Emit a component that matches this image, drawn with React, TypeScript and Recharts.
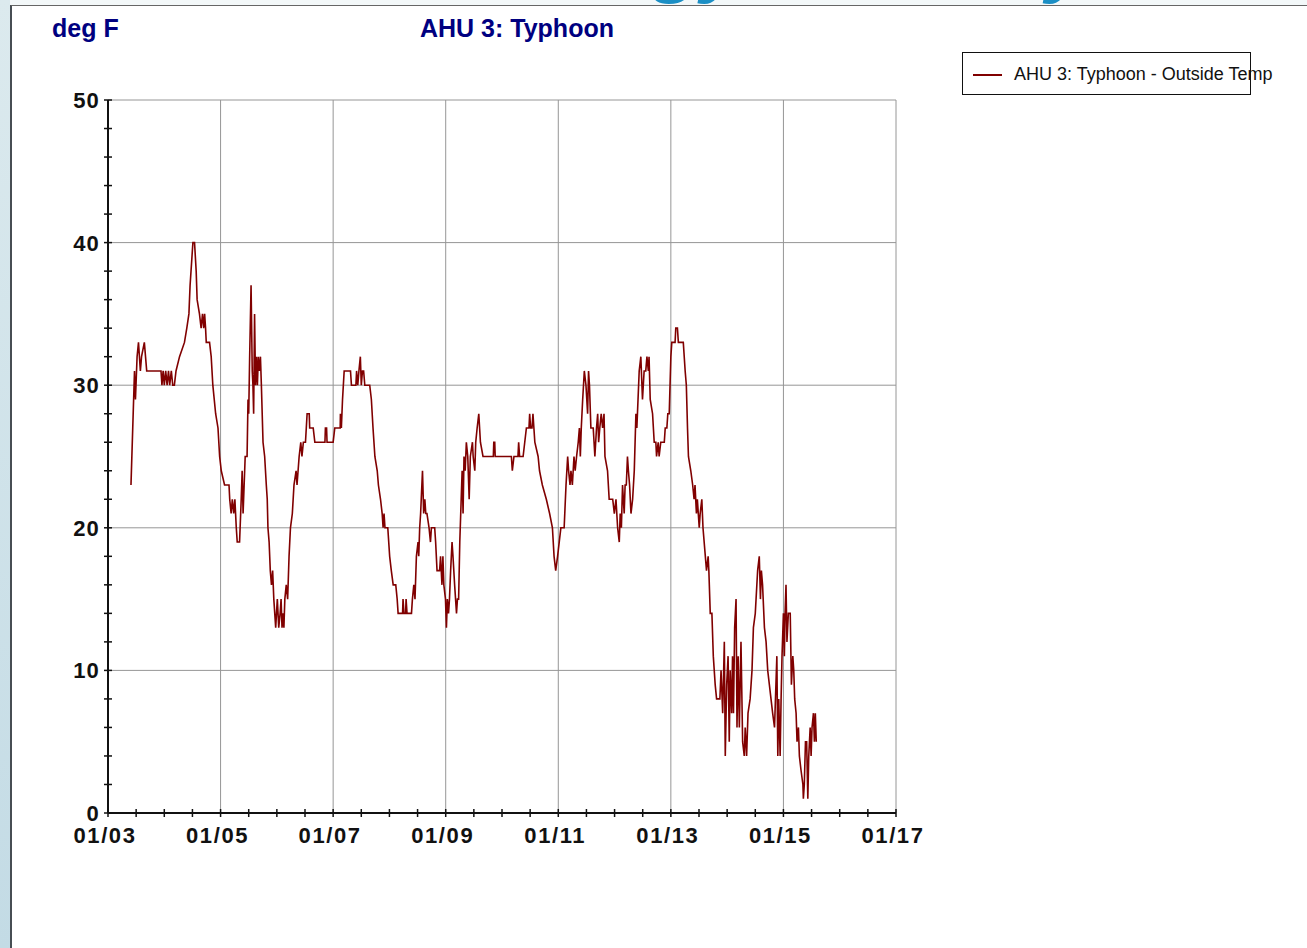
import { LineChart, Line, XAxis, YAxis, ReferenceLine } from 'recharts';

// Outside air temperature readings for AHU 3, as [hours since 01/03 00:00, deg F]
const outsideTemp: [number, number][] = [
  [9.8, 23], [11.3, 31], [11.7, 29], [12.4, 32], [13, 33], [13.4, 32], [13.8, 31], [14.3, 32], [15.5, 33], [16.5, 31],
  [22.6, 31], [23, 30], [23.5, 31], [24, 30], [24.6, 31], [25.2, 30], [25.8, 31], [26.3, 30], [27, 31], [27.6, 30],
  [28.3, 30], [29, 31], [30.5, 32], [32.6, 33], [33.6, 34], [34.5, 35], [35, 37], [36.2, 40], [36.9, 40], [37.6, 38],
  [38, 36], [39, 35], [39.7, 34], [40.3, 35], [40.8, 34], [41.2, 35], [41.6, 34], [41.9, 33], [43.3, 33], [44, 32],
  [44.7, 30], [45.9, 28], [46.9, 27], [47.6, 25], [48.3, 24], [49.7, 23], [51.6, 23], [51.9, 22], [52.5, 21], [53, 22],
  [53.6, 21], [54.1, 22], [54.7, 20], [55.1, 19], [56.1, 19], [56.8, 22], [57.2, 24], [57.6, 21], [58.5, 25], [59.3, 25],
  [59.7, 29], [60, 28], [60.4, 32], [61, 37], [61.5, 31], [61.8, 30], [62.1, 28], [62.5, 35], [62.9, 30], [63.3, 32],
  [63.7, 30], [64.1, 32], [64.5, 31], [65, 32], [65.4, 30], [66.1, 26], [66.8, 25], [67.5, 23], [67.9, 22], [68.2, 20],
  [68.7, 19], [69.2, 17], [69.7, 16], [70.2, 17], [70.7, 15], [71.1, 14], [71.5, 13], [72.2, 15], [72.8, 13], [73.4, 14],
  [73.8, 15], [74.2, 13], [74.7, 14], [75, 13], [75.4, 15], [76, 16], [76.6, 15], [77.2, 18], [77.8, 20], [78.6, 21],
  [79.3, 23], [80.2, 24], [80.6, 23], [81.5, 25], [82.2, 26], [82.7, 25], [83.3, 26], [84.2, 26], [84.9, 28], [85.8, 28],
  [86, 27], [87.5, 27], [88.2, 26], [92.5, 26], [92.7, 27], [93.2, 27], [93.4, 26], [96, 26], [96.7, 27], [99, 27],
  [99.1, 28], [99.5, 27], [100, 29], [100.7, 31], [103.4, 31], [103.8, 30], [105.7, 30], [106, 31], [106.5, 30], [107, 31],
  [107.6, 32], [108, 30], [108.5, 31], [109, 31], [109.5, 30], [111.6, 30], [112.3, 29], [113, 27], [113.8, 25], [114.8, 24],
  [115.3, 23], [116.2, 22], [116.9, 21], [117.3, 20], [117.7, 21], [118.1, 20], [119.3, 20], [120.1, 18], [120.8, 17], [121.6, 16],
  [122.7, 16], [123.3, 15], [123.7, 14], [125.6, 14], [125.8, 15], [126.2, 14], [126.9, 14], [127.1, 15], [127.5, 14], [129.4, 14],
  [129.8, 15], [130.4, 16], [130.9, 15], [131.5, 18], [132.2, 19], [132.5, 18], [132.9, 20], [133.3, 21], [134.1, 24], [134.6, 21],
  [135.1, 22], [135.5, 21], [136, 21], [136.9, 20], [137.5, 19], [137.9, 20], [139.3, 20], [139.7, 19], [140.3, 17], [141.4, 17],
  [141.8, 18], [142.4, 16], [142.8, 18], [143.2, 16], [143.9, 15], [144.3, 13], [144.7, 15], [145.2, 14], [145.6, 15], [146.1, 17],
  [146.7, 19], [147.1, 18], [147.8, 16], [148.2, 15], [148.6, 14], [149, 15], [149.5, 15], [150, 19], [150.4, 21], [151, 24],
  [151.4, 21], [151.8, 25], [152.3, 24], [152.8, 26], [153.4, 25], [154, 22], [154.5, 25], [155.4, 26], [155.7, 25], [156.4, 24],
  [156.8, 26], [157.4, 27], [158.1, 28], [158.8, 26], [159.9, 25], [164.3, 25], [164.5, 26], [164.9, 26], [165.1, 25], [172, 25],
  [172.4, 24], [173.1, 25], [174.8, 25], [175.1, 26], [175.5, 25], [177, 25], [177.7, 26], [178.4, 27], [179.5, 27], [179.8, 28],
  [180.2, 27], [180.8, 27], [181.2, 28], [182, 26], [183.4, 25], [184, 24], [185.2, 23], [186.9, 22], [188.3, 21], [189.5, 20],
  [190.2, 18], [190.9, 17], [191.7, 18], [192.4, 19], [193.1, 20], [194.5, 20], [195.3, 23], [196, 25], [196.4, 24], [197, 23],
  [197.4, 24], [198, 23], [198.7, 25], [199.2, 24], [199.8, 25], [200.5, 26], [201, 27], [201.4, 25], [201.8, 27], [202.4, 29],
  [203.1, 31], [203.8, 30], [204.5, 28], [204.9, 31], [205.3, 30], [205.9, 27], [206.9, 27], [207.6, 25], [208.3, 27], [208.8, 28],
  [209.2, 26], [209.7, 27], [210.3, 28], [210.9, 27], [211.5, 28], [211.9, 25], [213, 24], [213.7, 22], [215.2, 22], [215.9, 21],
  [216.6, 22], [217.3, 20], [218, 19], [218.4, 21], [218.9, 20], [219.4, 23], [220.1, 21], [220.5, 23], [221, 23], [221.5, 25],
  [221.9, 24], [222.4, 23], [223, 21], [223.7, 22], [224.4, 24], [225.1, 28], [225.5, 27], [226, 29], [226.5, 31], [227.2, 32],
  [227.9, 29], [228.6, 31], [229.3, 31], [229.8, 32], [230.4, 31], [230.7, 32], [231.2, 29], [232.2, 28], [232.9, 26], [233.6, 26],
  [233.9, 25], [234.6, 26], [235, 25], [235.7, 26], [237.2, 26], [237.6, 27], [238.3, 27], [238.7, 28], [239.3, 28], [240, 32],
  [240.4, 33], [241.8, 33], [242.1, 34], [242.8, 34], [243.2, 33], [245.3, 33], [246.1, 31], [246.6, 30], [247.1, 27], [247.5, 25],
  [248.5, 24], [249.3, 23], [249.9, 22], [250.3, 23], [250.9, 21], [251.3, 22], [252.1, 20], [252.5, 21], [253.2, 22], [253.7, 20],
  [254.7, 18], [255.2, 17], [255.9, 18], [256.2, 17], [256.8, 14], [257.5, 14], [258.1, 11], [258.9, 9], [259.5, 8], [260.9, 8],
  [261.4, 10], [262.1, 7], [262.8, 12], [263.2, 4], [263.8, 9], [264.4, 11], [264.9, 5], [265.3, 10], [265.9, 7], [266.3, 11],
  [266.7, 7], [267.2, 13], [267.8, 15], [268.2, 6], [268.7, 11], [269.2, 6], [269.9, 12], [270.6, 5], [271.3, 4], [271.7, 6],
  [272.3, 4], [272.9, 7], [273.8, 8], [274.6, 10], [275.2, 13], [276, 14], [277, 17], [277.7, 18], [278.2, 15], [278.6, 17],
  [279.1, 16], [279.9, 13], [280.6, 12], [281.3, 10], [282, 9], [282.7, 8], [283.4, 7], [284.2, 6], [284.6, 8], [285.2, 11],
  [285.6, 4], [286, 8], [286.6, 4], [287, 8], [287.4, 11], [288, 14], [288.4, 11], [288.7, 14], [289.1, 16], [289.5, 12],
  [290.1, 14], [290.9, 14], [291.4, 9], [292, 11], [292.4, 10], [292.8, 8], [293.4, 7], [293.8, 5], [294.4, 6], [294.8, 4],
  [295.5, 3], [296.3, 2], [296.5, 1], [296.9, 2], [297.4, 5], [297.9, 5], [298.4, 1], [298.8, 4], [299.4, 6], [299.8, 4],
  [300.2, 6], [300.8, 7], [301.2, 5], [301.6, 7], [302, 5],
];

// x axis: labelled every two days, minor ticks every 12 hours
const dayHours = [0, 48, 96, 144, 192, 240, 288, 336];
const dayLabels = ['01/03', '01/05', '01/07', '01/09', '01/11', '01/13', '01/15', '01/17'];
const minorHourStep = 12;

// y axis: labelled every 10, minor ticks every 2
const tempLabels = [0, 10, 20, 30, 40, 50];
const minorTempStep = 2;

const hourTicks: number[] = [];
for (let h = 0; h <= 336; h += minorHourStep) hourTicks.push(h);
const tempTicks: number[] = [];
for (let t = 0; t <= 50; t += minorTempStep) tempTicks.push(t);

const data = outsideTemp.map(([h, t]) => ({ h, t }));

const FONT = '"Liberation Sans", Arial, Helvetica, sans-serif';
const NAVY = '#000080';
const GRID = '#969696';
const LINE = '#800000';

function HourTick({ x, y, payload }: any) {
  const idx = dayHours.indexOf(payload.value);
  return (
    <g>
      <line x1={x} x2={x} y1={y - 4} y2={y + 4} stroke="#111" strokeWidth={1.5} />
      {idx >= 0 && (
        <text x={x - 3} y={y + 30} textAnchor="middle" fontFamily={FONT} fontWeight="bold" fontSize={22} letterSpacing={1.6} fill="#111">
          {dayLabels[idx]}
        </text>
      )}
    </g>
  );
}

function TempTick({ x, y, payload }: any) {
  const major = tempLabels.includes(payload.value);
  return (
    <g>
      <line x1={x - 4} x2={x + 4} y1={y} y2={y} stroke="#111" strokeWidth={1.5} />
      {major && (
        <text x={x - 8} y={y + 8} textAnchor="end" fontFamily={FONT} fontWeight="bold" fontSize={22} letterSpacing={1.2} fill="#111">
          {payload.value}
        </text>
      )}
    </g>
  );
}

export default function App() {
  return (
    <div style={{ position: 'fixed', left: 0, top: 0, width: 1307, height: 948, overflow: 'hidden', background: '#f3f8f9', fontFamily: FONT }}>
      {/* slide backdrop: blue strip on the left and heading fragments above the frame */}
      <div style={{ position: 'absolute', left: 0, top: 0, width: 10, height: 948, background: 'linear-gradient(#dceaee, #c3dbe5)' }} />
      <div style={{ position: 'absolute', left: 0, top: 0, width: 1307, height: 5, overflow: 'hidden' }}>
        <span style={{ position: 'absolute', left: 652, top: -80, fontSize: 80, lineHeight: '80px', fontWeight: 'bold', fontStyle: 'italic', color: '#1b8fc5' }}>gy</span>
        <span style={{ position: 'absolute', left: 1046, top: -80, fontSize: 80, lineHeight: '80px', fontWeight: 'bold', fontStyle: 'italic', color: '#1b8fc5' }}>y</span>
      </div>
      <div style={{ position: 'absolute', left: 10, top: 5, right: 0, bottom: 0, background: '#fff', borderLeft: '2px solid #474e53', borderTop: '1px solid #666' }} />

      <div style={{ position: 'absolute', left: 52, top: 16, fontSize: 25, lineHeight: '25px', fontWeight: 'bold', color: NAVY }}>deg F</div>
      <div style={{ position: 'absolute', left: 420, top: 16, fontSize: 25, lineHeight: '25px', fontWeight: 'bold', color: NAVY }}>AHU 3: Typhoon</div>

      <div style={{ position: 'absolute', left: 962, top: 52, width: 289, height: 43, boxSizing: 'border-box', border: '1px solid #111', whiteSpace: 'nowrap' }}>
        <div style={{ position: 'absolute', left: 10, top: 21, width: 29, height: 1.5, background: LINE }} />
        <div style={{ position: 'absolute', left: 51, top: 11, fontSize: 18, lineHeight: '21px', color: '#111' }}>AHU 3: Typhoon - Outside Temp</div>
      </div>

      <div style={{ position: 'absolute', left: 0, top: 0 }}>
        <LineChart width={940} height={900} data={data} margin={{ top: 100, right: 44, left: 0, bottom: 47 }}>
          <XAxis
            dataKey="h"
            type="number"
            domain={[0, 336]}
            ticks={hourTicks}
            interval={0}
            tick={<HourTick />}
            tickSize={0}
            tickMargin={0}
            tickLine={false}
            height={40}
            axisLine={{ stroke: '#111', strokeWidth: 2 }}
          />
          <YAxis
            type="number"
            domain={[0, 50]}
            ticks={tempTicks}
            interval={0}
            tick={<TempTick />}
            tickSize={0}
            tickMargin={0}
            tickLine={false}
            width={108}
            axisLine={{ stroke: '#111', strokeWidth: 2 }}
          />
          {dayHours.slice(1).map((h) => (
            <ReferenceLine key={`d${h}`} x={h} stroke={GRID} strokeWidth={1} />
          ))}
          {tempLabels.slice(1).map((t) => (
            <ReferenceLine key={`t${t}`} y={t} stroke={GRID} strokeWidth={1} />
          ))}
          <Line
            dataKey="t"
            type="linear"
            stroke={LINE}
            strokeWidth={1.6}
            dot={false}
            activeDot={false}
            isAnimationActive={false}
          />
        </LineChart>
      </div>
    </div>
  );
}
